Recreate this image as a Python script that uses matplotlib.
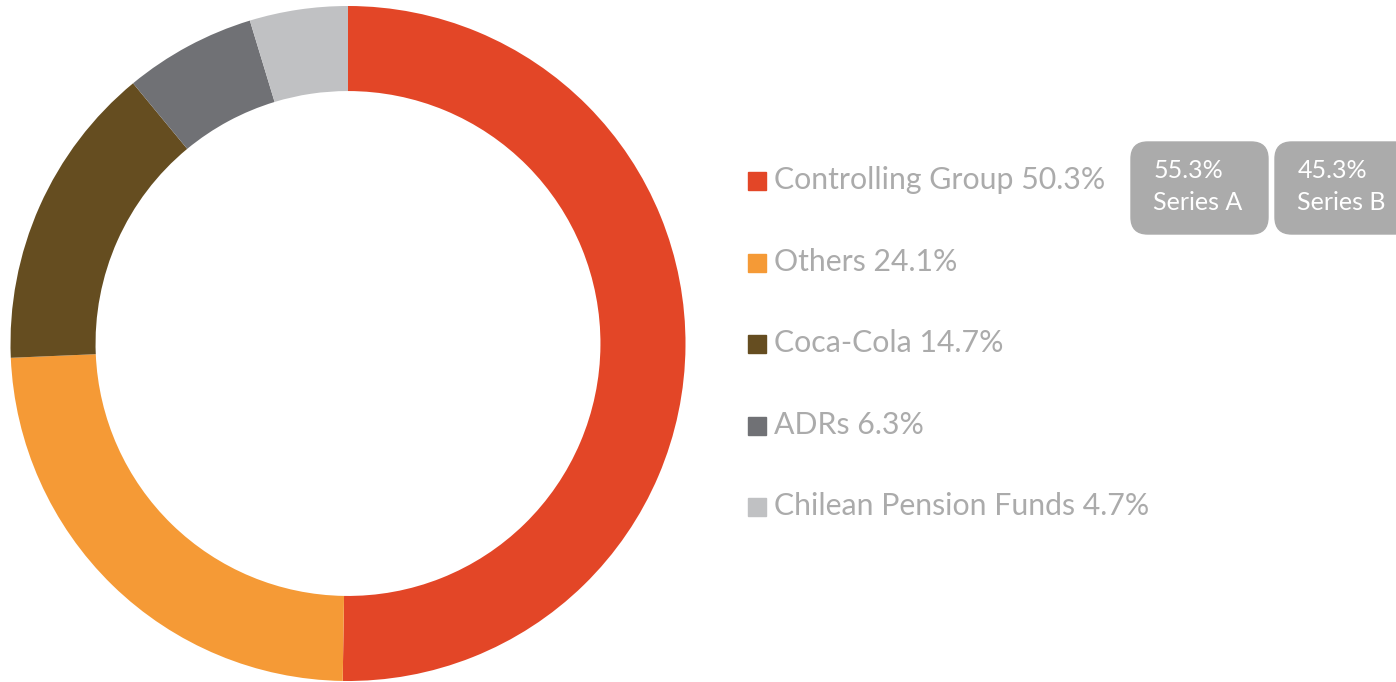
import matplotlib.pyplot as plt
from matplotlib.patches import FancyBboxPatch

labels = ['Controlling Group', 'Others', 'Coca-Cola', 'ADRs', 'Chilean Pension Funds']
shares = [50.3, 24.1, 14.7, 6.3, 4.7]
colors = ['#E34627', '#F59A36', '#654D20', '#707175', '#C0C1C3']
series_pct = ['55.3%', '45.3%']
series_names = ['Series A', 'Series B']

W, H = 1396, 682
fig = plt.figure(figsize=(W / 100, H / 100), dpi=100)

# donut
cx, cy, r = 348, 343.5, 337.5
ax = fig.add_axes([(cx - r) / W, (H - cy - r) / H, 2 * r / W, 2 * r / H])
ax.pie(shares, colors=colors, startangle=90, counterclock=False,
       radius=1, wedgeprops=dict(width=0.252, linewidth=0))
ax.set_xlim(-1, 1)
ax.set_ylim(-1, 1)
ax.set_aspect('equal')
ax.axis('off')

# legend
font = 'Lato'
for i, (lab, val, c) in enumerate(zip(labels, shares, colors)):
    y = 181 + i * 81.6
    fig.patches.append(plt.Rectangle((748 / W, 1 - (y + 9) / H), 18 / W, 18 / H,
                                     transform=fig.transFigure, color=c))
    fig.text(774 / W, 1 - (y - 1) / H, f'{lab} {val}%', fontsize=21.8, color='#ABABAB',
             va='center', ha='left', family=font)

# series badges
for j, (p, n) in enumerate(zip(series_pct, series_names)):
    x0 = 1131 + j * 144
    box = FancyBboxPatch((x0 / W, 1 - 234 / H), 137 / W, 92 / H,
                         boxstyle='round,pad=0,rounding_size=0.012',
                         transform=fig.transFigure, color='#ABABAB',
                         mutation_aspect=W / H)
    fig.patches.append(box)
    fig.text((x0 + 23) / W, 1 - 170 / H, p, fontsize=18, color='white',
             va='center', ha='left', family=font)
    fig.text((x0 + 22) / W, 1 - 203 / H, n, fontsize=18, color='white',
             va='center', ha='left', family=font)

fig.savefig('out.png', dpi=100)
